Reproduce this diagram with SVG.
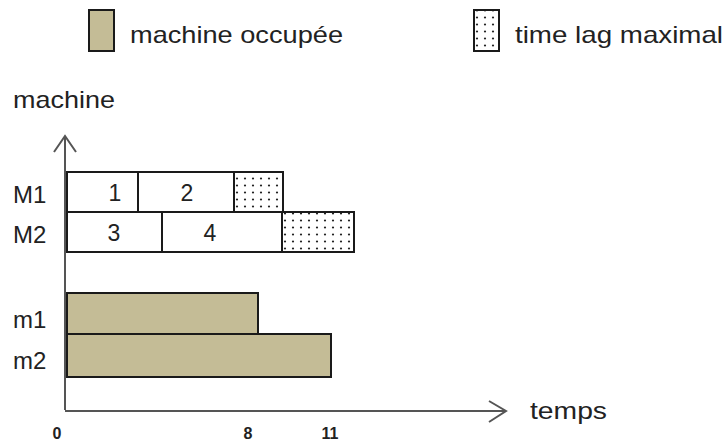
<svg xmlns="http://www.w3.org/2000/svg" width="727" height="442" viewBox="0 0 727 442">
<style>
text{font-family:"Liberation Sans",Arial,sans-serif;fill:#222;}
.lbl{font-size:24px;}
.num{font-size:23px;text-anchor:middle;}
.tick{font-size:16px;font-weight:bold;text-anchor:middle;}
.box{fill:#fff;stroke:#1a1a1a;stroke-width:2;}
.busy{fill:#c4bc96;stroke:#1a1a1a;stroke-width:2;}
.lag{fill:url(#dots);stroke:#1a1a1a;stroke-width:2;}
.axis{fill:none;stroke:#555;stroke-width:2;}
</style>
<defs>
<pattern id="dots" patternUnits="userSpaceOnUse" width="8" height="7" x="1" y="0">
<rect width="8" height="7" fill="#fff"/>
<circle cx="4" cy="3.5" r="1.1" fill="#222"/>
</pattern>
</defs>
<g id="legend">
<rect x="89" y="10" width="25" height="41" class="busy"/>
<text x="130" y="43" class="lbl" textLength="213" lengthAdjust="spacingAndGlyphs">machine occupée</text>
<rect x="474" y="10" width="25" height="41" class="lag"/>
<text x="515" y="43" class="lbl" textLength="208" lengthAdjust="spacingAndGlyphs">time lag maximal</text>
</g>
<g id="connectors">
<path d="M65 410 V136" class="axis"/>
<path d="M54 152 L65 136 L76 152" class="axis"/>
<path d="M65 411 H506" class="axis"/>
<path d="M489 401 L506 411 L489 422" class="axis"/>
</g>
<g id="axis-labels">
<text x="13" y="108" class="lbl" textLength="102" lengthAdjust="spacingAndGlyphs">machine</text>
<text x="530" y="419" class="lbl" textLength="77" lengthAdjust="spacingAndGlyphs">temps</text>
<text x="57" y="439" class="tick">0</text>
<text x="248" y="439" class="tick">8</text>
<text x="330" y="439" class="tick">11</text>
</g>
<g id="row-labels">
<text x="13" y="203" class="lbl">M1</text>
<text x="13" y="243" class="lbl">M2</text>
<text x="13" y="328" class="lbl">m1</text>
<text x="13" y="369" class="lbl">m2</text>
</g>
<g id="task1"><rect x="67" y="172" width="71" height="40" class="box"/><text x="115" y="201" class="num">1</text></g>
<g id="task2"><rect x="138" y="172" width="96" height="40" class="box"/><text x="187" y="201" class="num">2</text></g>
<g id="lag1"><rect x="234" y="172" width="49" height="40" class="lag"/></g>
<g id="task3"><rect x="67" y="212" width="95" height="40" class="box"/><text x="114" y="241" class="num">3</text></g>
<g id="task4"><rect x="162" y="212" width="120" height="40" class="box"/><text x="210" y="241" class="num">4</text></g>
<g id="lag2"><rect x="282" y="212" width="72" height="40" class="lag"/></g>
<g id="m1"><rect x="67" y="293" width="191" height="41" class="busy"/></g>
<g id="m2"><rect x="67" y="334" width="264" height="43" class="busy"/></g>
</svg>
